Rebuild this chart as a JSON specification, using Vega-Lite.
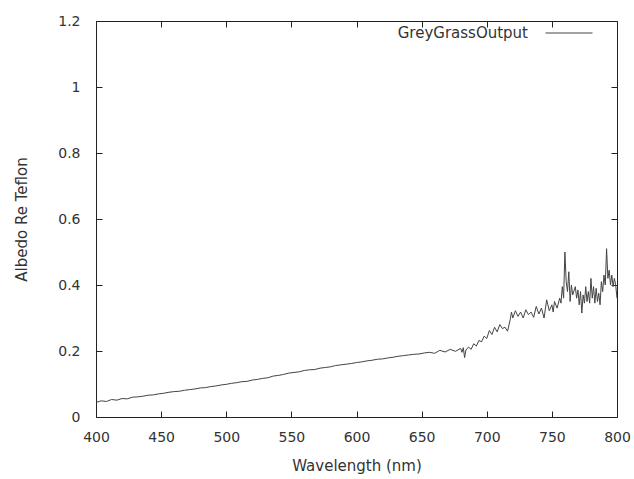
{
  "$schema": "https://vega.github.io/schema/vega-lite/v6.json",
  "width": 521,
  "height": 396,
  "autosize": "none",
  "padding": {"left": 96, "top": 21, "right": 17, "bottom": 62},
  "background": "white",
  "config": {
    "view": {"stroke": "#222", "strokeWidth": 1},
    "font": "DejaVu Sans",
    "axis": {
      "grid": false,
      "domain": false,
      "labelFlush": false,
      "tickColor": "#222",
      "tickSize": -6,
      "labelFont": "DejaVu Sans",
      "labelFontSize": 14,
      "labelColor": "#333",
      "titleFont": "DejaVu Sans",
      "titleFontSize": 15,
      "titleFontWeight": "normal",
      "titleColor": "#333"
    }
  },
  "data": {"values": [
    {"wl":400,"v":0.044,"s":"GreyGrassOutput"},{"wl":404,"v":0.049,"s":"GreyGrassOutput"},{"wl":408,"v":0.047,"s":"GreyGrassOutput"},{"wl":412,"v":0.053,"s":"GreyGrassOutput"},{"wl":416,"v":0.051,"s":"GreyGrassOutput"},{"wl":420,"v":0.056,"s":"GreyGrassOutput"},{"wl":424,"v":0.055,"s":"GreyGrassOutput"},{"wl":428,"v":0.060,"s":"GreyGrassOutput"},{"wl":432,"v":0.061,"s":"GreyGrassOutput"},{"wl":436,"v":0.063,"s":"GreyGrassOutput"},{"wl":440,"v":0.066,"s":"GreyGrassOutput"},{"wl":444,"v":0.067,"s":"GreyGrassOutput"},{"wl":448,"v":0.070,"s":"GreyGrassOutput"},{"wl":452,"v":0.072,"s":"GreyGrassOutput"},{"wl":456,"v":0.075,"s":"GreyGrassOutput"},{"wl":460,"v":0.077,"s":"GreyGrassOutput"},{"wl":464,"v":0.078,"s":"GreyGrassOutput"},{"wl":468,"v":0.081,"s":"GreyGrassOutput"},{"wl":472,"v":0.083,"s":"GreyGrassOutput"},{"wl":476,"v":0.085,"s":"GreyGrassOutput"},{"wl":480,"v":0.088,"s":"GreyGrassOutput"},{"wl":484,"v":0.089,"s":"GreyGrassOutput"},{"wl":488,"v":0.092,"s":"GreyGrassOutput"},{"wl":492,"v":0.094,"s":"GreyGrassOutput"},{"wl":496,"v":0.097,"s":"GreyGrassOutput"},{"wl":500,"v":0.099,"s":"GreyGrassOutput"},{"wl":504,"v":0.102,"s":"GreyGrassOutput"},{"wl":508,"v":0.104,"s":"GreyGrassOutput"},{"wl":512,"v":0.107,"s":"GreyGrassOutput"},{"wl":516,"v":0.108,"s":"GreyGrassOutput"},{"wl":520,"v":0.112,"s":"GreyGrassOutput"},{"wl":524,"v":0.114,"s":"GreyGrassOutput"},{"wl":528,"v":0.117,"s":"GreyGrassOutput"},{"wl":532,"v":0.119,"s":"GreyGrassOutput"},{"wl":536,"v":0.124,"s":"GreyGrassOutput"},{"wl":540,"v":0.126,"s":"GreyGrassOutput"},{"wl":544,"v":0.129,"s":"GreyGrassOutput"},{"wl":548,"v":0.133,"s":"GreyGrassOutput"},{"wl":552,"v":0.135,"s":"GreyGrassOutput"},{"wl":556,"v":0.137,"s":"GreyGrassOutput"},{"wl":560,"v":0.141,"s":"GreyGrassOutput"},{"wl":564,"v":0.143,"s":"GreyGrassOutput"},{"wl":568,"v":0.144,"s":"GreyGrassOutput"},{"wl":572,"v":0.148,"s":"GreyGrassOutput"},{"wl":576,"v":0.150,"s":"GreyGrassOutput"},{"wl":580,"v":0.152,"s":"GreyGrassOutput"},{"wl":584,"v":0.156,"s":"GreyGrassOutput"},{"wl":588,"v":0.158,"s":"GreyGrassOutput"},{"wl":592,"v":0.160,"s":"GreyGrassOutput"},{"wl":596,"v":0.162,"s":"GreyGrassOutput"},{"wl":600,"v":0.165,"s":"GreyGrassOutput"},{"wl":604,"v":0.167,"s":"GreyGrassOutput"},{"wl":608,"v":0.170,"s":"GreyGrassOutput"},{"wl":612,"v":0.172,"s":"GreyGrassOutput"},{"wl":616,"v":0.175,"s":"GreyGrassOutput"},{"wl":620,"v":0.176,"s":"GreyGrassOutput"},{"wl":624,"v":0.179,"s":"GreyGrassOutput"},{"wl":628,"v":0.181,"s":"GreyGrassOutput"},{"wl":632,"v":0.184,"s":"GreyGrassOutput"},{"wl":636,"v":0.186,"s":"GreyGrassOutput"},{"wl":640,"v":0.188,"s":"GreyGrassOutput"},{"wl":644,"v":0.190,"s":"GreyGrassOutput"},{"wl":648,"v":0.191,"s":"GreyGrassOutput"},{"wl":652,"v":0.194,"s":"GreyGrassOutput"},{"wl":656,"v":0.196,"s":"GreyGrassOutput"},{"wl":660,"v":0.193,"s":"GreyGrassOutput"},{"wl":664,"v":0.202,"s":"GreyGrassOutput"},{"wl":668,"v":0.197,"s":"GreyGrassOutput"},{"wl":672,"v":0.205,"s":"GreyGrassOutput"},{"wl":676,"v":0.199,"s":"GreyGrassOutput"},{"wl":680,"v":0.208,"s":"GreyGrassOutput"},
    {"wl":681,"v":0.196,"s":"GreyGrassOutput"},{"wl":682,"v":0.210,"s":"GreyGrassOutput"},{"wl":683,"v":0.180,"s":"GreyGrassOutput"},{"wl":684,"v":0.203,"s":"GreyGrassOutput"},{"wl":686,"v":0.212,"s":"GreyGrassOutput"},{"wl":688,"v":0.205,"s":"GreyGrassOutput"},{"wl":690,"v":0.222,"s":"GreyGrassOutput"},{"wl":692,"v":0.215,"s":"GreyGrassOutput"},{"wl":694,"v":0.232,"s":"GreyGrassOutput"},{"wl":696,"v":0.228,"s":"GreyGrassOutput"},{"wl":698,"v":0.245,"s":"GreyGrassOutput"},{"wl":700,"v":0.238,"s":"GreyGrassOutput"},{"wl":702,"v":0.262,"s":"GreyGrassOutput"},{"wl":704,"v":0.250,"s":"GreyGrassOutput"},{"wl":706,"v":0.272,"s":"GreyGrassOutput"},{"wl":708,"v":0.258,"s":"GreyGrassOutput"},{"wl":710,"v":0.280,"s":"GreyGrassOutput"},{"wl":712,"v":0.268,"s":"GreyGrassOutput"},{"wl":714,"v":0.272,"s":"GreyGrassOutput"},{"wl":716,"v":0.260,"s":"GreyGrassOutput"},{"wl":718,"v":0.295,"s":"GreyGrassOutput"},{"wl":719,"v":0.318,"s":"GreyGrassOutput"},{"wl":720,"v":0.300,"s":"GreyGrassOutput"},{"wl":722,"v":0.322,"s":"GreyGrassOutput"},{"wl":724,"v":0.305,"s":"GreyGrassOutput"},{"wl":726,"v":0.318,"s":"GreyGrassOutput"},{"wl":728,"v":0.300,"s":"GreyGrassOutput"},{"wl":730,"v":0.325,"s":"GreyGrassOutput"},{"wl":732,"v":0.310,"s":"GreyGrassOutput"},{"wl":734,"v":0.318,"s":"GreyGrassOutput"},{"wl":736,"v":0.302,"s":"GreyGrassOutput"},{"wl":738,"v":0.335,"s":"GreyGrassOutput"},{"wl":740,"v":0.312,"s":"GreyGrassOutput"},{"wl":742,"v":0.330,"s":"GreyGrassOutput"},{"wl":744,"v":0.300,"s":"GreyGrassOutput"},{"wl":746,"v":0.355,"s":"GreyGrassOutput"},{"wl":748,"v":0.322,"s":"GreyGrassOutput"},{"wl":750,"v":0.340,"s":"GreyGrassOutput"},{"wl":751,"v":0.318,"s":"GreyGrassOutput"},{"wl":752,"v":0.350,"s":"GreyGrassOutput"},{"wl":754,"v":0.330,"s":"GreyGrassOutput"},{"wl":756,"v":0.360,"s":"GreyGrassOutput"},{"wl":757,"v":0.345,"s":"GreyGrassOutput"},{"wl":758,"v":0.395,"s":"GreyGrassOutput"},{"wl":759,"v":0.360,"s":"GreyGrassOutput"},{"wl":760,"v":0.500,"s":"GreyGrassOutput"},{"wl":761,"v":0.410,"s":"GreyGrassOutput"},{"wl":762,"v":0.380,"s":"GreyGrassOutput"},{"wl":763,"v":0.440,"s":"GreyGrassOutput"},{"wl":764,"v":0.350,"s":"GreyGrassOutput"},{"wl":765,"v":0.400,"s":"GreyGrassOutput"},{"wl":766,"v":0.370,"s":"GreyGrassOutput"},{"wl":768,"v":0.395,"s":"GreyGrassOutput"},{"wl":769,"v":0.360,"s":"GreyGrassOutput"},{"wl":770,"v":0.385,"s":"GreyGrassOutput"},{"wl":771,"v":0.340,"s":"GreyGrassOutput"},{"wl":772,"v":0.380,"s":"GreyGrassOutput"},{"wl":773,"v":0.315,"s":"GreyGrassOutput"},{"wl":774,"v":0.370,"s":"GreyGrassOutput"},{"wl":775,"v":0.345,"s":"GreyGrassOutput"},{"wl":776,"v":0.395,"s":"GreyGrassOutput"},{"wl":777,"v":0.350,"s":"GreyGrassOutput"},{"wl":778,"v":0.380,"s":"GreyGrassOutput"},{"wl":779,"v":0.345,"s":"GreyGrassOutput"},{"wl":780,"v":0.420,"s":"GreyGrassOutput"},{"wl":781,"v":0.360,"s":"GreyGrassOutput"},{"wl":782,"v":0.395,"s":"GreyGrassOutput"},{"wl":783,"v":0.345,"s":"GreyGrassOutput"},{"wl":784,"v":0.390,"s":"GreyGrassOutput"},{"wl":785,"v":0.350,"s":"GreyGrassOutput"},{"wl":786,"v":0.375,"s":"GreyGrassOutput"},{"wl":787,"v":0.340,"s":"GreyGrassOutput"},{"wl":788,"v":0.410,"s":"GreyGrassOutput"},{"wl":789,"v":0.380,"s":"GreyGrassOutput"},{"wl":790,"v":0.430,"s":"GreyGrassOutput"},{"wl":791,"v":0.400,"s":"GreyGrassOutput"},{"wl":792,"v":0.510,"s":"GreyGrassOutput"},{"wl":793,"v":0.420,"s":"GreyGrassOutput"},{"wl":794,"v":0.445,"s":"GreyGrassOutput"},{"wl":795,"v":0.400,"s":"GreyGrassOutput"},{"wl":796,"v":0.430,"s":"GreyGrassOutput"},{"wl":797,"v":0.395,"s":"GreyGrassOutput"},{"wl":798,"v":0.420,"s":"GreyGrassOutput"},{"wl":799,"v":0.400,"s":"GreyGrassOutput"},{"wl":800,"v":0.360,"s":"GreyGrassOutput"}
  ]},
  "layer": [
    {
      "mark": {"type": "line", "strokeWidth": 1, "clip": true},
      "encoding": {
        "x": {"field": "wl", "type": "quantitative", "scale": {"domain": [400, 800], "nice": false, "zero": false},
              "axis": {"title": "Wavelength (nm)", "values": [400,450,500,550,600,650,700,750,800], "labelPadding": 19, "titlePadding": 14}},
        "y": {"field": "v", "type": "quantitative", "scale": {"domain": [0, 1.2], "nice": false, "zero": false},
              "axis": {"title": "Albedo Re Teflon", "values": [0,0.2,0.4,0.6,0.8,1,1.2], "format": "~g", "labelPadding": 22, "titlePadding": 28}},
        "color": {"field": "s", "type": "nominal", "scale": {"range": ["#444444"]},
                  "legend": {"title": null, "orient": "none", "legendX": 449, "legendY": -12, "symbolType": "stroke", "symbolSize": 2209, "symbolStrokeWidth": 1,
                             "labelAlign": "right", "labelOffset": -65, "labelFontSize": 15, "labelFont": "DejaVu Sans", "labelColor": "#333", "padding": 0}}
      }
    },
    {
      "mark": {"type": "line", "opacity": 0},
      "encoding": {
        "x": {"field": "wl", "type": "quantitative", "scale": {"domain": [400, 800], "nice": false, "zero": false},
              "axis": {"orient": "top", "title": null, "labels": false, "values": [400,450,500,550,600,650,700,750,800]}},
        "y": {"field": "v", "type": "quantitative", "scale": {"domain": [0, 1.2], "nice": false, "zero": false},
              "axis": {"orient": "right", "title": null, "labels": false, "values": [0,0.2,0.4,0.6,0.8,1,1.2]}}
      }
    }
  ],
  "resolve": {"axis": {"x": "independent", "y": "independent"}}
}
